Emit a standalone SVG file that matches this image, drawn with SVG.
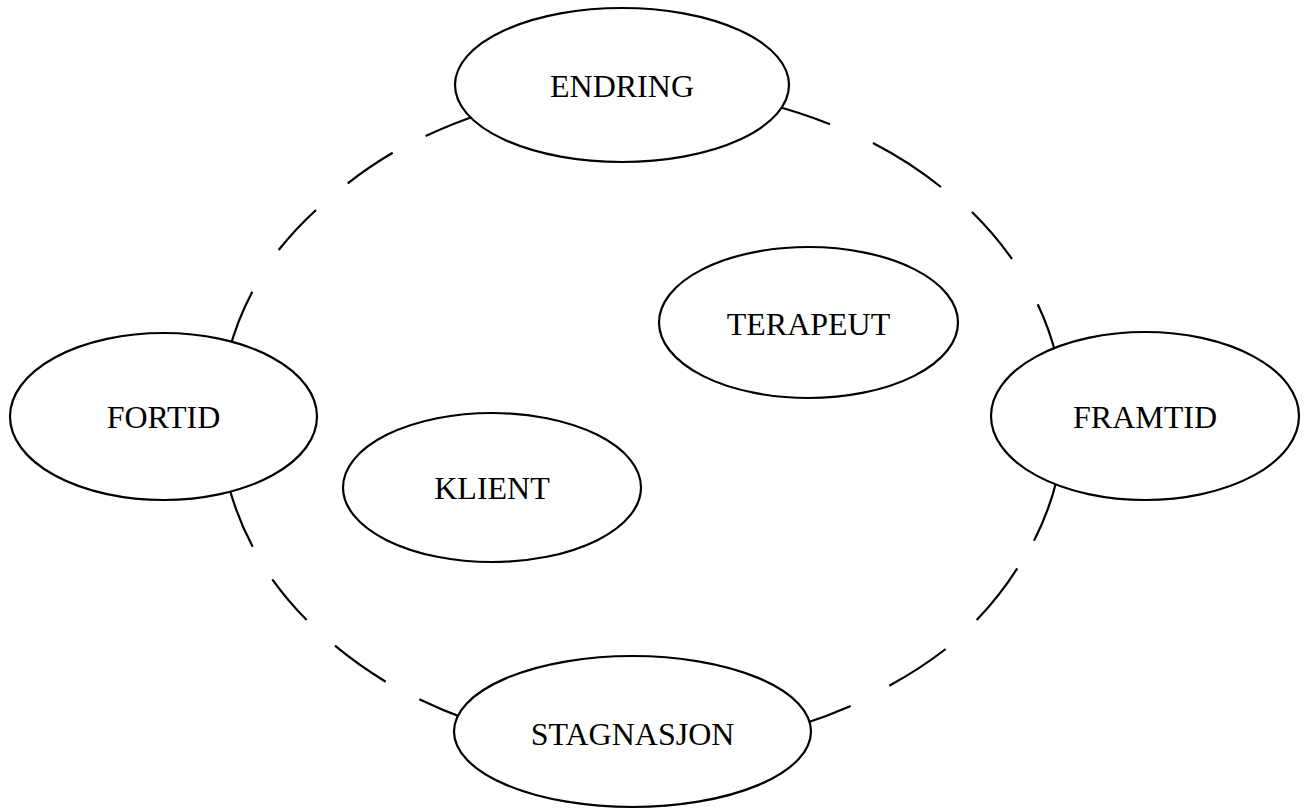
<svg xmlns="http://www.w3.org/2000/svg" width="1304" height="809" viewBox="0 0 1304 809">
<style>
.dash{fill:none;stroke:#000;stroke-width:2.2}
.node{fill:#fff;stroke:#000;stroke-width:2.2}
.lbl{font-family:"Liberation Serif","Times New Roman",serif;font-size:32px;fill:#000;text-anchor:middle}
</style>
<rect width="1304" height="809" fill="#fff"/>
<g id="connectors">
<path class="dash" d="M228.8 352 A422 330 0 0 1 252.3 291.7"/>
<path class="dash" d="M278.7 250 A422 330 0 0 1 316 210"/>
<path class="dash" d="M347.7 183.3 A422 330 0 0 1 392.7 152.7"/>
<path class="dash" d="M425.7 136 A422 330 0 0 1 482 113.7"/>
<path class="dash" d="M768 104 A422 330 0 0 1 830 124.3"/>
<path class="dash" d="M873 143 A422 330 0 0 1 941 187"/>
<path class="dash" d="M972 212 A422 330 0 0 1 1012 259"/>
<path class="dash" d="M1037.7 304.3 A422 330 0 0 1 1056.7 358"/>
<path class="dash" d="M1056.7 480 A422 330 0 0 1 1034 540.7"/>
<path class="dash" d="M1017.3 568.3 A422 330 0 0 1 976.7 620"/>
<path class="dash" d="M945.7 649 A422 330 0 0 1 889.3 685.7"/>
<path class="dash" d="M850.7 706 A422 330 0 0 1 800 725"/>
<path class="dash" d="M468 719.6 A422 330 0 0 1 419.3 699.3"/>
<path class="dash" d="M385.7 681.7 A422 330 0 0 1 335 645.7"/>
<path class="dash" d="M306.7 620 A422 330 0 0 1 272.3 579.3"/>
<path class="dash" d="M252.7 546.7 A422 330 0 0 1 227.8 482"/>
</g>
<g id="endring">
<ellipse class="node" cx="622" cy="85" rx="167" ry="77"/>
<text class="lbl" x="622" y="97">ENDRING</text>
</g>
<g id="terapeut">
<ellipse class="node" cx="808.5" cy="322.5" rx="149.5" ry="75.5"/>
<text class="lbl" x="808.5" y="335">TERAPEUT</text>
</g>
<g id="fortid">
<ellipse class="node" cx="163.5" cy="416.5" rx="153.5" ry="83.5"/>
<text class="lbl" x="163.5" y="428">FORTID</text>
</g>
<g id="framtid">
<ellipse class="node" cx="1145" cy="416" rx="154" ry="84"/>
<text class="lbl" x="1145" y="428">FRAMTID</text>
</g>
<g id="klient">
<ellipse class="node" cx="492" cy="487.5" rx="149" ry="74.5"/>
<text class="lbl" x="492" y="499">KLIENT</text>
</g>
<g id="stagnasjon">
<ellipse class="node" cx="632.5" cy="731.5" rx="178.5" ry="75.5"/>
<text class="lbl" x="632.5" y="745">STAGNASJON</text>
</g>
</svg>
